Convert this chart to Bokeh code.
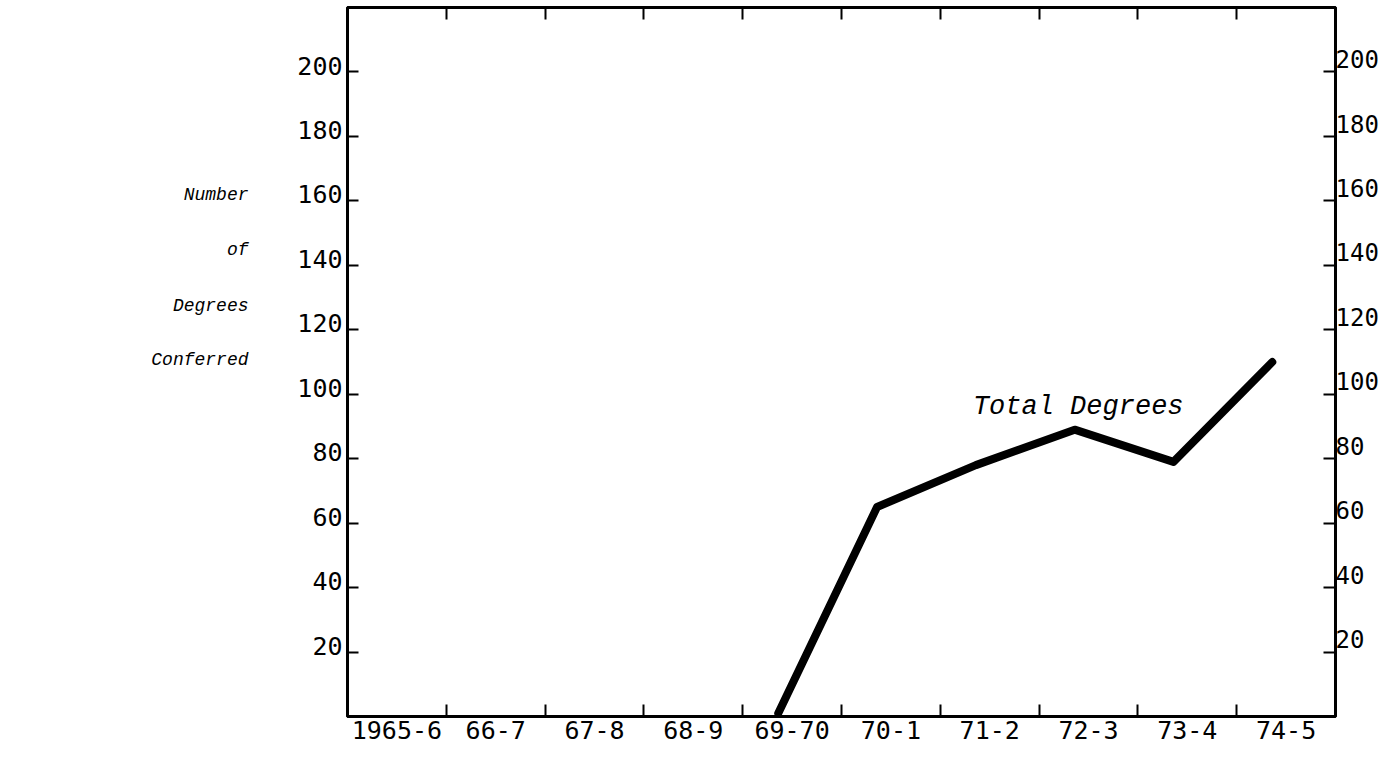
from bokeh.plotting import figure
from bokeh.models import Range1d, LinearAxis, FixedTicker, Label, ColumnDataSource
from bokeh.embed import file_html
from bokeh.resources import INLINE

# ---- data ----
categories = ["1965-6", "66-7", "67-8", "68-9", "69-70", "70-1", "71-2", "72-3", "73-4", "74-5"]
line_years = ["69-70", "70-1", "71-2", "72-3", "73-4", "74-5"]
total_degrees = [1, 65, 78, 89, 79, 110]
y_tick_values = [20, 40, 60, 80, 100, 120, 140, 160, 180, 200]
y_label_lines = ["Number", "of", "Degrees", "Conferred"]
series_label = "Total Degrees"

TICK_FONT = "DejaVu Sans Mono"
ITAL_FONT = "Liberation Mono"

W, H = 1382, 743
BL, BT, BB = 347, 7, 27
p = figure(width=W, height=H, output_backend="svg", toolbar_location=None,
           x_range=Range1d(0, len(categories)), y_range=Range1d(0, 220),
           min_border_left=BL, min_border_right=47, min_border_top=BT, min_border_bottom=BB,
           x_axis_type=None, y_axis_type=None)
p.grid.visible = False
p.outline_line_color = "black"
p.outline_line_width = 3
p.background_fill_color = "white"
p.border_fill_color = "white"

centers = [i + 0.5 for i in range(len(categories))]
bounds = list(range(1, len(categories)))


def style_axis(ax, size="25px"):
    ax.axis_line_width = 3
    ax.axis_line_color = "black"
    ax.major_tick_line_width = 2
    ax.minor_tick_line_width = 2
    ax.major_tick_line_color = "black"
    ax.minor_tick_line_color = "black"
    ax.major_label_text_font = TICK_FONT
    ax.major_label_text_font_size = size
    ax.major_label_text_color = "black"


# bottom: labels at bin centres, inward ticks at bin boundaries
bottom = LinearAxis(ticker=FixedTicker(ticks=centers, minor_ticks=bounds))
style_axis(bottom)
bottom.major_tick_in = 0
bottom.major_tick_out = 0
bottom.minor_tick_in = 12
bottom.minor_tick_out = 0
bottom.major_label_standoff = 4
bottom.major_label_overrides = {c: lab for c, lab in zip(centers, categories)}
p.add_layout(bottom, "below")

# top: inward ticks only
top = LinearAxis(ticker=FixedTicker(ticks=[], minor_ticks=bounds))
style_axis(top)
top.minor_tick_in = 12
top.minor_tick_out = 0
top.major_label_text_font_size = "0px"
top.major_label_standoff = 0
p.add_layout(top, "above")

# left: labels set slightly above the inward ticks
lshift = 2
left = LinearAxis(ticker=FixedTicker(ticks=[v + lshift for v in y_tick_values], minor_ticks=y_tick_values))
style_axis(left)
left.major_tick_in = 0
left.major_tick_out = 0
left.minor_tick_in = 11
left.minor_tick_out = 0
left.major_label_standoff = 5
left.major_label_overrides = {v + lshift: str(v) for v in y_tick_values}
p.add_layout(left, "left")

# y-axis title as a second, bare left axis (one line per "tick")
title_rows = [161.7, 144.6, 127.5, 110.5]
ytitle = LinearAxis(ticker=FixedTicker(ticks=title_rows, minor_ticks=[]))
ytitle.axis_line_color = None
ytitle.major_tick_line_color = None
ytitle.minor_tick_line_color = None
ytitle.major_tick_in = 0
ytitle.major_tick_out = 0
ytitle.major_label_standoff = 46
ytitle.major_label_text_font = ITAL_FONT
ytitle.major_label_text_font_style = "italic"
ytitle.major_label_text_font_size = "18px"
ytitle.major_label_text_color = "black"
ytitle.major_label_overrides = {r: t for r, t in zip(title_rows, y_label_lines)}
p.add_layout(ytitle, "left")

# right
rshift = 4
right = LinearAxis(ticker=FixedTicker(ticks=[v + rshift for v in y_tick_values], minor_ticks=y_tick_values))
style_axis(right, "24px")
right.major_tick_in = 0
right.major_tick_out = 0
right.minor_tick_in = 12
right.minor_tick_out = 0
right.major_label_standoff = 0
right.major_label_overrides = {v + rshift: str(v) for v in y_tick_values}
p.add_layout(right, "right")

# the line
offset = -0.14
src = ColumnDataSource(data=dict(
    x=[categories.index(c) + 0.5 + offset for c in line_years],
    y=total_degrees))
p.line("x", "y", source=src, line_width=8, line_color="black",
       line_join="round", line_cap="round")

# annotation for series
p.add_layout(Label(x=categories.index("71-2") + 0.33, y=96, text=series_label,
                   text_font=ITAL_FONT, text_font_style="italic", text_font_size="27px",
                   text_baseline="middle", text_align="left", text_color="black"))

open("out.html", "w").write(file_html(p, INLINE))
